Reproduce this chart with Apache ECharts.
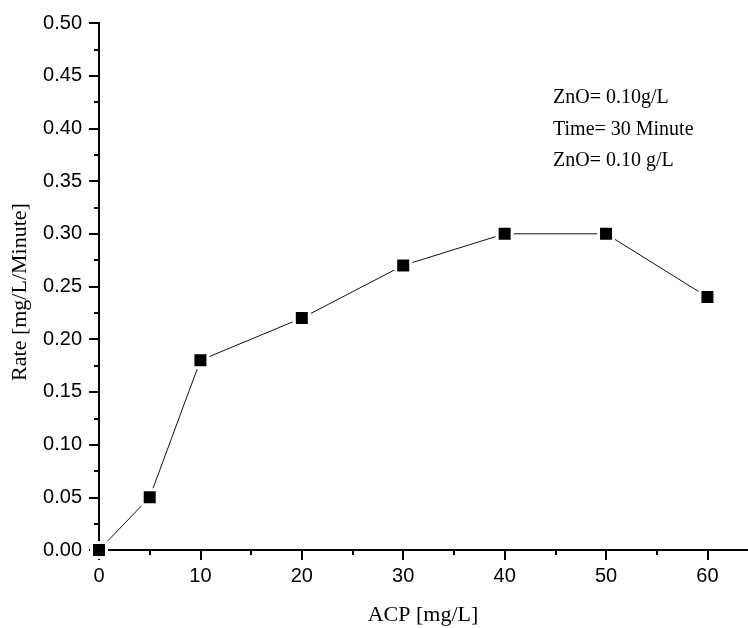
<!DOCTYPE html>
<html>
<head>
<meta charset="utf-8">
<script src="https://cdn.jsdelivr.net/npm/echarts@6/dist/echarts.min.js"></script>
<style>html,body{margin:0;padding:0;background:#fff;}#c{width:748px;height:628px;}</style>
</head>
<body>
<div id="c"></div>
<script>
const acp = [0, 5, 10, 20, 30, 40, 50, 60];
const rate = [0, 0.05, 0.18, 0.22, 0.27, 0.30, 0.30, 0.24];
const xMajorTicks = [0, 10, 20, 30, 40, 50, 60];
const xMinorTicks = [5, 15, 25, 35, 45, 55];
const notes = ['ZnO= 0.10g/L', 'Time= 30 Minute', 'ZnO= 0.10 g/L'];
const xTitle = 'ACP [mg/L]';
const yTitle = 'Rate [mg/L/Minute]';

const chart = echarts.init(document.getElementById('c'), null, {renderer: 'canvas'});
const serif = '"Liberation Serif", "Times New Roman", serif';
const sans = '"Liberation Sans", Arial, sans-serif';
chart.setOption({
  animation: false,
  backgroundColor: '#fff',
  grid: {left: 99, top: 23, right: 0, bottom: 78, containLabel: false},
  xAxis: [{
    type: 'value', min: 0, max: 64, interval: 10,
    axisLine: {lineStyle: {color: '#000', width: 2}},
    axisTick: {show: true, length: 10, customValues: xMajorTicks, lineStyle: {color: '#000', width: 2}},
    minorTick: {show: false},
    splitLine: {show: false},
    axisLabel: {color: '#000', fontFamily: sans, fontSize: 20, margin: 16, customValues: xMajorTicks,
      formatter: v => String(v)}
  }, {
    type: 'value', min: 0, max: 64, position: 'bottom', gridIndex: 0,
    axisLine: {show: false},
    axisTick: {show: true, length: 5, customValues: xMinorTicks, lineStyle: {color: '#000', width: 2}},
    axisLabel: {show: false},
    splitLine: {show: false}
  }],
  yAxis: {
    type: 'value', min: 0, max: 0.5, interval: 0.05,
    axisLine: {lineStyle: {color: '#000', width: 2}},
    axisTick: {show: true, length: 10, lineStyle: {color: '#000', width: 2}},
    minorTick: {show: true, splitNumber: 2, length: 5, lineStyle: {color: '#000', width: 2}},
    splitLine: {show: false},
    axisLabel: {color: '#000', fontFamily: sans, fontSize: 20, margin: 17,
      formatter: v => v.toFixed(2)}
  },
  series: [{
    type: 'line',
    xAxisIndex: 0,
    data: acp.map((x, i) => [x, rate[i]]),
    symbol: 'rect',
    symbolSize: 15,
    showAllSymbol: true,
    lineStyle: {color: '#111', width: 1},
    itemStyle: {color: '#000', borderColor: '#fff', borderWidth: 3},
    z: 3
  }],
  graphic: [
    {type: 'text', x: 423, y: 615, style: {text: xTitle, font: '22px ' + serif, fill: '#000', textAlign: 'center', textVerticalAlign: 'middle'}},
    {type: 'text', rotation: Math.PI / 2, x: 20, y: 292, style: {text: yTitle, font: '22px ' + serif, fill: '#000', textAlign: 'center', textVerticalAlign: 'middle'}},
    {type: 'text', x: 553, y: 108, style: {text: notes[0], font: '20px ' + serif, fill: '#000', textVerticalAlign: 'bottom'}},
    {type: 'text', x: 553, y: 140, style: {text: notes[1], font: '20px ' + serif, fill: '#000', textVerticalAlign: 'bottom'}},
    {type: 'text', x: 553, y: 171, style: {text: notes[2], font: '20px ' + serif, fill: '#000', textVerticalAlign: 'bottom'}}
  ]
});
</script>
</body>
</html>
